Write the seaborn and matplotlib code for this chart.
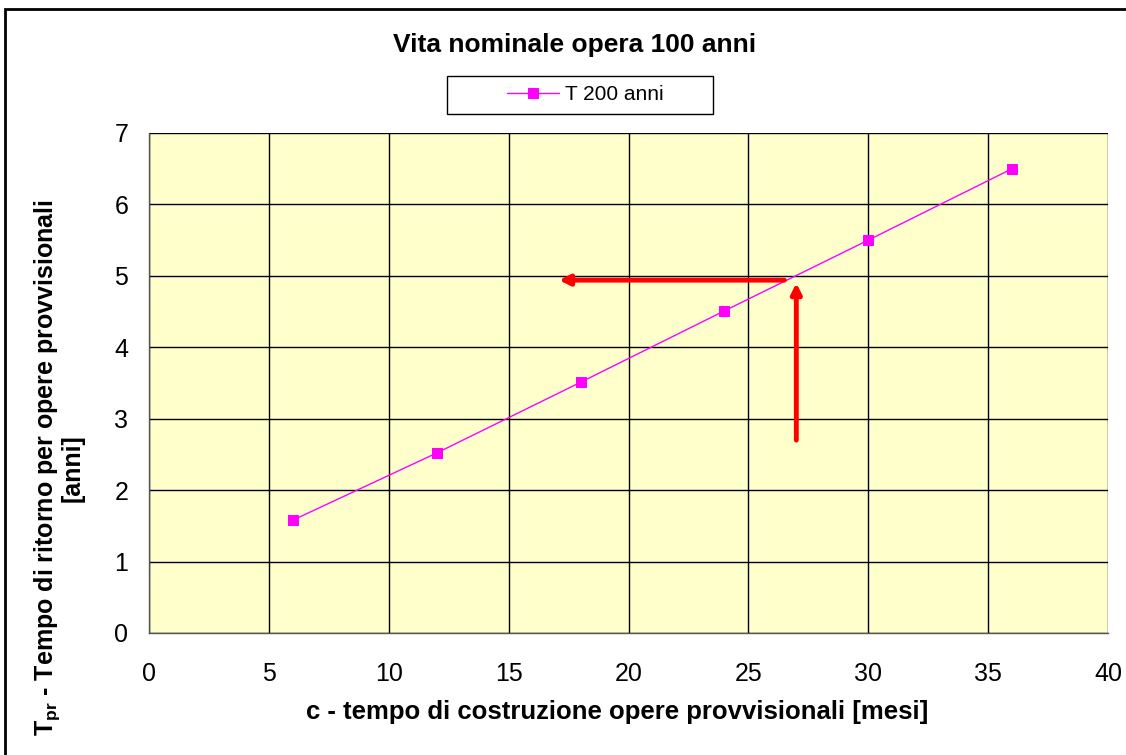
import matplotlib
matplotlib.use("Agg")
import matplotlib.pyplot as plt
import seaborn as sns
import pandas as pd
from matplotlib.patches import Rectangle

# Data
mesi = [6, 12, 18, 24, 30, 36]
anni = [1.58, 2.52, 3.51, 4.51, 5.50, 6.50]
series_label = "T 200 anni"
x_ticks = [0, 5, 10, 15, 20, 25, 30, 35, 40]
y_ticks = [0, 1, 2, 3, 4, 5, 6, 7]
# Annotation arrows (start -> end) in data units
arrow_h = [(26.5, 4.94), (17.1, 4.94)]
arrow_v = [(27.0, 2.70), (27.0, 4.90)]

sns.set_style("white")
plt.rcParams['font.family'] = ['Liberation Sans', 'DejaVu Sans']
plt.rcParams['mathtext.default'] = 'regular'
for k in ["text.color", "axes.labelcolor", "xtick.color", "ytick.color"]:
    plt.rcParams[k] = "black"

W, H = 1126, 755
fig = plt.figure(figsize=(W / 100, H / 100), dpi=100)
ax = fig.add_axes([149/W, 1 - 633/H, (1108 - 149)/W, (633 - 133)/H])
ax.set_facecolor("#FFFFCC")

df = pd.DataFrame({"mesi": mesi, "anni": anni})
sns.lineplot(data=df, x="mesi", y="anni", ax=ax, color="#FF00FF", linewidth=1.0,
             marker="s", markersize=6.5, markeredgecolor="#FF00FF",
             markerfacecolor="#FF00FF", label=series_label)

ax.set_xlim(0, 40)
ax.set_ylim(0, 7)
ax.set_xticks(x_ticks)
ax.set_yticks(y_ticks)
ax.grid(True, color="black", linewidth=1.0)
ax.set_axisbelow(True)
for s in ["top", "right"]:
    ax.spines[s].set_visible(False)
for s in ["left", "bottom"]:
    ax.spines[s].set_color("#555555")
    ax.spines[s].set_linewidth(1.0)
ax.tick_params(axis="both", direction="out", length=5, width=1, color="#555555",
               labelsize=18, labelcolor="black")
ax.tick_params(axis="x", pad=16)
ax.tick_params(axis="y", pad=10)

ax.set_xlabel("c - tempo di costruzione opere provvisionali [mesi]",
              fontsize=18.5, fontweight="bold")
ax.xaxis.set_label_coords((617 - 149) / 959, (633 - 700) / 500)
ax.set_ylabel("T$_{pr}$ - Tempo di ritorno per opere provvisionali\n[anni]",
              fontsize=18, fontweight="bold", linespacing=0.95)
ax.yaxis.set_label_coords((85 - 149) / 959, (633 - 468) / 500)

fig.text(575/W, 1 - 45/H, "Vita nominale opera 100 anni", ha="center",
         va="center", fontsize=19, fontweight="bold")

# legend box
ax.add_patch(Rectangle((447/W, 1 - 114/H), 266/W, 38/H,
                       transform=fig.transFigure, facecolor="white",
                       edgecolor="black", linewidth=1.0, zorder=4,
                       clip_on=False))
leg = ax.legend(loc="center", bbox_to_anchor=(585/W, 1 - 95/H),
                bbox_transform=fig.transFigure, frameon=False, fontsize=15,
                handlelength=2.5, handletextpad=0.3, borderpad=0,
                borderaxespad=0)
leg.set_zorder(6)

for (x0, y0), (x1, y1) in [arrow_h, arrow_v]:
    ax.annotate("", xy=(x1, y1), xytext=(x0, y0),
                arrowprops=dict(arrowstyle="-|>,head_length=0.6,head_width=0.3",
                                color="red", lw=3.5, shrinkA=0, shrinkB=0))

# outer chart frame
fig.patches.append(Rectangle((5/W, -0.1), 1.2, 1 - 9/H + 0.1,
                             transform=fig.transFigure, fill=False,
                             edgecolor="black", linewidth=2))

fig.savefig("out.png", dpi=100)
